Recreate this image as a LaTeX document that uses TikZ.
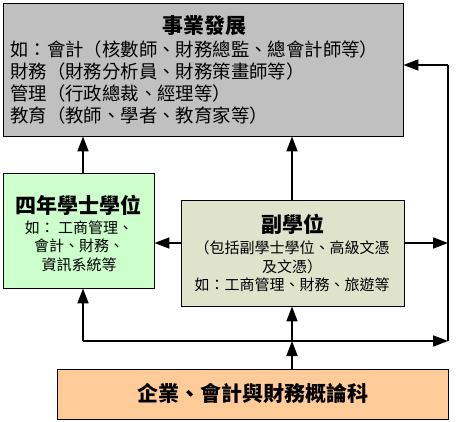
\documentclass[tikz,border=0pt]{standalone}
\usepackage{fontspec}
\setmainfont{Noto Sans CJK TC}
\usetikzlibrary{arrows.meta}
\definecolor{topgray}{HTML}{C0C0C0}
\definecolor{leftgreen}{HTML}{CCFFCC}
\definecolor{midolive}{HTML}{DFE3CC}
\definecolor{botorange}{HTML}{FFCC99}
\tikzset{
  boxstyle/.style={draw=black, line width=0.9pt, inner sep=0pt},
  arr/.style={line width=1.7pt, -{Triangle[length=15pt,width=11pt]}},
  conn/.style={line width=1.7pt},
  titlefont/.style={font=\bfseries\fontsize{21}{24}\selectfont, inner sep=0pt},
  bigbody/.style={font=\fontsize{18.4}{22}\selectfont, inner sep=0pt, align=left},
  smallbody/.style={font=\fontsize{15}{18.5}\selectfont, inner sep=0pt, align=center},
}
\begin{document}
\begin{tikzpicture}[x=1pt,y=-1pt]
\useasboundingbox (0,0) rectangle (468,422);
% boxes
\node[boxstyle, fill=topgray, minimum width=400pt, minimum height=133pt] (top) at (203,69.5) {};
\node[boxstyle, fill=leftgreen, minimum width=151pt, minimum height=115pt] (green) at (78.5,230.5) {};
\node[boxstyle, fill=midolive, minimum width=223pt, minimum height=106pt] (mid) at (292.5,253) {};
\node[boxstyle, fill=botorange, minimum width=391pt, minimum height=50pt] (bot) at (252.5,394) {};
% texts
\node[titlefont] (toptitle) at (204.5,26) {事業發展};
\node[bigbody, anchor=west] (toptext) at (10,83) {如：會計（核數師、財務總監、總會計師等）\\財務（財務分析員、財務策畫師等）\\管理（行政總裁、經理等）\\教育（教師、學者、教育家等）};
\node[titlefont] (greentitle) at (79,205) {四年學士學位};
\node[smallbody] (greentext) at (79,246) {如： 工商管理、\\會計、財務、\\資訊系統等};
\node[titlefont] (midtitle) at (292.5,224) {副學位};
\node[smallbody] (midtext) at (292,266.5) {（包括副學士學位、高級文憑\\及文憑）\\如：工商管理、財務、旅遊等};
\node[titlefont] (bottext) at (253,393) {企業、會計與財務概論科};
% junction coordinates
\coordinate (cL) at (83,341);
\coordinate (cM) at (292,341);
\coordinate (cR) at (448,341);
\coordinate (cA) at (448,243);
\coordinate (cRT) at (448,65);
% connectors
\draw[arr] (green.north -| cL) -- (top.south -| cL);
\draw[arr] (mid.north -| cM) -- (top.south -| cM);
\draw[arr] (mid.west |- cA) -- (green.east |- cA);
\draw[arr] (mid.east |- cA) -- (cA);
\draw[arr] (cL) -- (green.south -| cL);
\draw[arr] (cL) -- (cR);
\draw[arr] (bot.north -| cM) -- (cM);
\draw[arr] (cM) -- (mid.south -| cM);
\draw[conn, line join=miter] (cR) -- (cRT);
\draw[arr] (cRT) -- (top.east |- cRT);
\end{tikzpicture}
\end{document}
